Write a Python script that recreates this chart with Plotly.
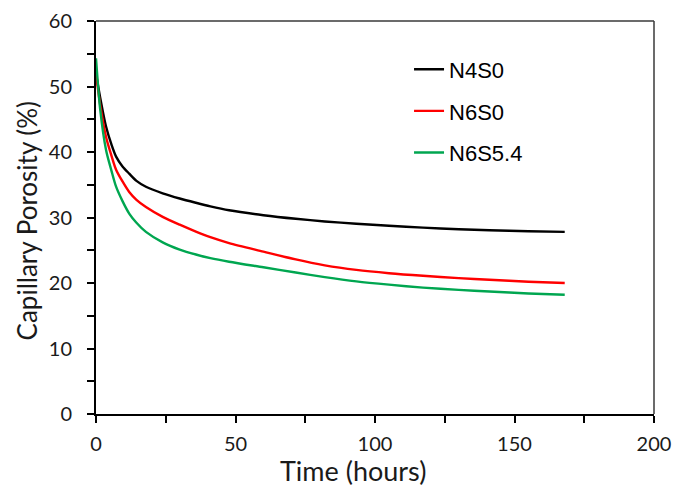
import plotly.graph_objects as go

# Hydration time (hours)
hours = [0, 1.5, 3.6, 5.5, 7.2, 9.5, 11.9, 14.5, 17.9, 23.9, 30, 35.8, 41, 47.7, 60,
         71.6, 82, 93.3, 105, 117.2, 130, 141, 155, 168]

# Capillary porosity (%) for each mix
n4s0 = [52.0, 48.3, 43.9, 41.2, 39.3, 37.8, 36.7, 35.6, 34.7, 33.7, 32.9, 32.25, 31.7, 31.1, 30.35,
        29.8, 29.4, 29.05, 28.75, 28.45, 28.2, 28.05, 27.9, 27.8]
n6s0 = [52.0, 47.2, 42.3, 39.5, 37.3, 35.5, 33.9, 32.7, 31.6, 30.1, 28.9, 27.85, 27.0, 26.1, 24.8,
        23.6, 22.7, 22.0, 21.5, 21.1, 20.75, 20.5, 20.2, 20.0]
n6s54 = [54.3, 46.5, 40.3, 37.2, 34.7, 32.5, 30.6, 29.2, 27.8, 26.2, 25.1, 24.35, 23.8, 23.25, 22.4,
         21.6, 20.9, 20.25, 19.75, 19.3, 18.95, 18.7, 18.4, 18.2]

series_names = ["N4S0", "N6S0", "N6S5.4"]
series_colors = ["#000000", "#ff0000", "#00a650"]
series_values = [n4s0, n6s0, n6s54]

x_ticks = [0, 50, 100, 150, 200]
y_ticks = [0, 10, 20, 30, 40, 50, 60]

fig = go.Figure()
for i, (name, color, vals) in enumerate(zip(series_names, series_colors, series_values)):
    fig.add_trace(go.Scatter(
        x=hours, y=vals, mode="lines", name=name,
        line=dict(color=color, width=2.4, shape="spline", smoothing=0.8),
        legendgroup=f"g{i}",
    ))

tick_font = dict(family="Lato, sans-serif", size=20, color="#1a1a1a")

fig.update_layout(
    width=675, height=486,
    margin=dict(l=96, r=21, t=21, b=72, autoexpand=False),
    paper_bgcolor="white", plot_bgcolor="white",
    showlegend=True,
    legend=dict(
        x=0.561, y=0.93, xanchor="left", yanchor="top",
        font=dict(family="Liberation Sans, Arial, sans-serif", size=22, color="#000000"),
        bgcolor="rgba(0,0,0,0)", borderwidth=0,
        tracegroupgap=10, itemwidth=30,
    ),
    xaxis=dict(
        range=[0, 200], tickvals=x_ticks, ticktext=[str(v) for v in x_ticks],
        showgrid=False, zeroline=False, automargin=False,
        showline=True, linecolor="#000000", linewidth=2,
        ticks="outside", ticklen=7, tickwidth=1.5, tickcolor="#000000",
        minor=dict(dtick=25, tick0=0, ticks="outside", ticklen=7, tickwidth=1.5,
                   tickcolor="#000000", showgrid=False),
        tickfont=tick_font, ticklabelstandoff=4,
    ),
    yaxis=dict(
        range=[0, 60], tickvals=y_ticks, ticktext=[str(v) for v in y_ticks],
        showgrid=False, zeroline=False, automargin=False,
        showline=True, linecolor="#000000", linewidth=2,
        ticks="outside", ticklen=7, tickwidth=1.5, tickcolor="#000000",
        minor=dict(dtick=5, tick0=0, ticks="outside", ticklen=7, tickwidth=1.5,
                   tickcolor="#000000", showgrid=False),
        tickfont=tick_font, ticklabelstandoff=11,
    ),
)

# Frame: top and right edges of the plotting area
fig.add_shape(type="line", xref="x domain", yref="y domain", x0=0, x1=1, y0=1, y1=1,
              line=dict(color="#3a3a3a", width=1.5))
fig.add_shape(type="line", xref="x domain", yref="y domain", x0=1, x1=1, y0=0, y1=1,
              line=dict(color="#3a3a3a", width=1.5))

# Axis titles
fig.add_annotation(text="Time (hours)", xref="paper", yref="paper", x=0.461, y=-0.145,
                   xanchor="center", yanchor="middle", showarrow=False,
                   font=dict(family="Lato, sans-serif", size=27, color="#1a1a1a"))
fig.add_annotation(text="Capillary Porosity (%)", xref="paper", yref="paper", x=-0.124, y=0.492,
                   xanchor="center", yanchor="middle", showarrow=False, textangle=-90,
                   font=dict(family="Lato, sans-serif", size=26, color="#1a1a1a"))

fig.write_html("out.html")
